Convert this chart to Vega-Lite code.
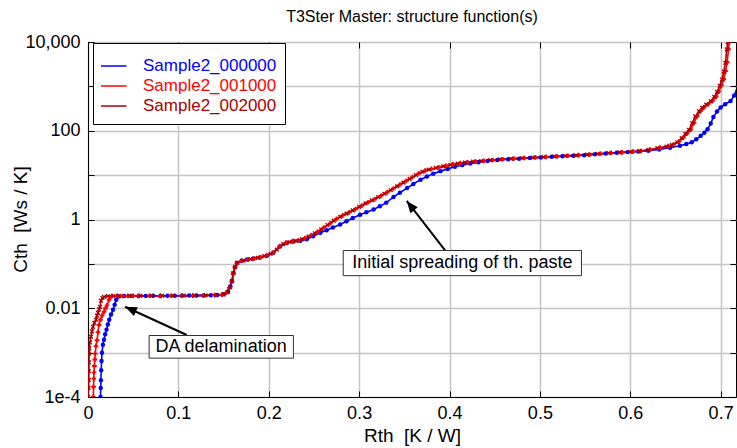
{
"$schema": "https://vega.github.io/schema/vega-lite/v6.json",
"width": 648, "height": 355,
"autosize": {"type": "none"},
"padding": {"left": 88, "top": 42, "right": 1, "bottom": 51},
"background": "white",
"title": {"text": "T3Ster Master: structure function(s)", "fontSize": 16, "font": "Liberation Sans", "fontWeight": "normal", "color": "black", "offset": 8, "anchor": "middle"},
"datasets": {
"curves": [
{"s":"Sample2_000000","r":0.0138,"c":0.0001},{"s":"Sample2_000000","r":0.0141,"c":0.00016},{"s":"Sample2_000000","r":0.0143,"c":0.00024},{"s":"Sample2_000000","r":0.0146,"c":0.0004},{"s":"Sample2_000000","r":0.0150,"c":0.00065},{"s":"Sample2_000000","r":0.0155,"c":0.001},{"s":"Sample2_000000","r":0.0165,"c":0.0015},{"s":"Sample2_000000","r":0.0177,"c":0.00195},{"s":"Sample2_000000","r":0.0190,"c":0.0026},{"s":"Sample2_000000","r":0.0205,"c":0.0033},{"s":"Sample2_000000","r":0.0220,"c":0.0043},{"s":"Sample2_000000","r":0.0235,"c":0.0055},{"s":"Sample2_000000","r":0.0255,"c":0.0072},{"s":"Sample2_000000","r":0.0277,"c":0.0093},{"s":"Sample2_000000","r":0.0295,"c":0.012},{"s":"Sample2_000000","r":0.0312,"c":0.0155},{"s":"Sample2_000000","r":0.0340,"c":0.0185},{"s":"Sample2_000000","r":0.0400,"c":0.0188},{"s":"Sample2_000000","r":0.0480,"c":0.019},{"s":"Sample2_000000","r":0.0560,"c":0.0189},{"s":"Sample2_000000","r":0.0640,"c":0.019},{"s":"Sample2_000000","r":0.0720,"c":0.0191},{"s":"Sample2_000000","r":0.0800,"c":0.019},{"s":"Sample2_000000","r":0.0880,"c":0.0191},{"s":"Sample2_000000","r":0.0960,"c":0.0192},{"s":"Sample2_000000","r":0.1040,"c":0.0191},{"s":"Sample2_000000","r":0.1120,"c":0.0193},{"s":"Sample2_000000","r":0.1200,"c":0.0193},{"s":"Sample2_000000","r":0.1280,"c":0.0195},{"s":"Sample2_000000","r":0.1360,"c":0.0196},{"s":"Sample2_000000","r":0.1430,"c":0.0199},{"s":"Sample2_000000","r":0.1500,"c":0.0206},{"s":"Sample2_000000","r":0.1550,"c":0.0236},{"s":"Sample2_000000","r":0.1575,"c":0.031},{"s":"Sample2_000000","r":0.1595,"c":0.041},{"s":"Sample2_000000","r":0.1610,"c":0.062},{"s":"Sample2_000000","r":0.1628,"c":0.085},{"s":"Sample2_000000","r":0.1650,"c":0.105},{"s":"Sample2_000000","r":0.1700,"c":0.117},{"s":"Sample2_000000","r":0.1760,"c":0.125},{"s":"Sample2_000000","r":0.1830,"c":0.132},{"s":"Sample2_000000","r":0.1900,"c":0.140},{"s":"Sample2_000000","r":0.1980,"c":0.153},{"s":"Sample2_000000","r":0.2050,"c":0.178},{"s":"Sample2_000000","r":0.2125,"c":0.245},{"s":"Sample2_000000","r":0.2200,"c":0.295},{"s":"Sample2_000000","r":0.2275,"c":0.32},{"s":"Sample2_000000","r":0.2350,"c":0.33},{"s":"Sample2_000000","r":0.2420,"c":0.36},{"s":"Sample2_000000","r":0.2490,"c":0.42},{"s":"Sample2_000000","r":0.2570,"c":0.50},{"s":"Sample2_000000","r":0.2640,"c":0.57},{"s":"Sample2_000000","r":0.2710,"c":0.66},{"s":"Sample2_000000","r":0.2790,"c":0.77},{"s":"Sample2_000000","r":0.2860,"c":0.91},{"s":"Sample2_000000","r":0.2930,"c":1.08},{"s":"Sample2_000000","r":0.3010,"c":1.28},{"s":"Sample2_000000","r":0.3080,"c":1.45},{"s":"Sample2_000000","r":0.3160,"c":1.68},{"s":"Sample2_000000","r":0.3230,"c":1.98},{"s":"Sample2_000000","r":0.3300,"c":2.4},{"s":"Sample2_000000","r":0.3380,"c":3.2},{"s":"Sample2_000000","r":0.3450,"c":4.0},{"s":"Sample2_000000","r":0.3530,"c":5.1},{"s":"Sample2_000000","r":0.3600,"c":6.3},{"s":"Sample2_000000","r":0.3680,"c":7.9},{"s":"Sample2_000000","r":0.3750,"c":9.3},{"s":"Sample2_000000","r":0.3820,"c":10.8},{"s":"Sample2_000000","r":0.3900,"c":12.3},{"s":"Sample2_000000","r":0.3980,"c":13.8},{"s":"Sample2_000000","r":0.4060,"c":15.5},{"s":"Sample2_000000","r":0.4140,"c":16.8},{"s":"Sample2_000000","r":0.4230,"c":18.2},{"s":"Sample2_000000","r":0.4320,"c":19.6},{"s":"Sample2_000000","r":0.4420,"c":20.8},{"s":"Sample2_000000","r":0.4530,"c":21.8},{"s":"Sample2_000000","r":0.4650,"c":22.7},{"s":"Sample2_000000","r":0.4770,"c":23.5},{"s":"Sample2_000000","r":0.4890,"c":24.3},{"s":"Sample2_000000","r":0.5010,"c":25.0},{"s":"Sample2_000000","r":0.5130,"c":25.8},{"s":"Sample2_000000","r":0.5250,"c":26.6},{"s":"Sample2_000000","r":0.5370,"c":27.4},{"s":"Sample2_000000","r":0.5490,"c":28.2},{"s":"Sample2_000000","r":0.5610,"c":29.4},{"s":"Sample2_000000","r":0.5730,"c":30.7},{"s":"Sample2_000000","r":0.5850,"c":31.8},{"s":"Sample2_000000","r":0.5970,"c":33.0},{"s":"Sample2_000000","r":0.6090,"c":34.0},{"s":"Sample2_000000","r":0.6200,"c":35.3},{"s":"Sample2_000000","r":0.6320,"c":37.8},{"s":"Sample2_000000","r":0.6440,"c":41.5},{"s":"Sample2_000000","r":0.6550,"c":46},{"s":"Sample2_000000","r":0.6620,"c":50},{"s":"Sample2_000000","r":0.6680,"c":55},{"s":"Sample2_000000","r":0.6730,"c":64},{"s":"Sample2_000000","r":0.6780,"c":77},{"s":"Sample2_000000","r":0.6820,"c":90},{"s":"Sample2_000000","r":0.6855,"c":108},{"s":"Sample2_000000","r":0.6890,"c":145},{"s":"Sample2_000000","r":0.6920,"c":205},{"s":"Sample2_000000","r":0.6960,"c":270},{"s":"Sample2_000000","r":0.7000,"c":335},{"s":"Sample2_000000","r":0.7050,"c":395},{"s":"Sample2_000000","r":0.7110,"c":470},{"s":"Sample2_000000","r":0.7150,"c":620},{"s":"Sample2_000000","r":0.7190,"c":1000},
{"s":"Sample2_001000","r":0.0059,"c":0.0001},{"s":"Sample2_001000","r":0.0061,"c":0.00017},{"s":"Sample2_001000","r":0.0064,"c":0.00026},{"s":"Sample2_001000","r":0.0067,"c":0.00036},{"s":"Sample2_001000","r":0.0071,"c":0.0005},{"s":"Sample2_001000","r":0.0075,"c":0.0007},{"s":"Sample2_001000","r":0.0080,"c":0.00095},{"s":"Sample2_001000","r":0.0088,"c":0.0014},{"s":"Sample2_001000","r":0.0100,"c":0.0019},{"s":"Sample2_001000","r":0.0111,"c":0.0029},{"s":"Sample2_001000","r":0.0122,"c":0.0042},{"s":"Sample2_001000","r":0.0138,"c":0.0055},{"s":"Sample2_001000","r":0.0155,"c":0.0068},{"s":"Sample2_001000","r":0.0177,"c":0.0083},{"s":"Sample2_001000","r":0.0195,"c":0.0100},{"s":"Sample2_001000","r":0.0210,"c":0.0116},{"s":"Sample2_001000","r":0.0233,"c":0.0155},{"s":"Sample2_001000","r":0.0266,"c":0.0188},{"s":"Sample2_001000","r":0.0320,"c":0.019},{"s":"Sample2_001000","r":0.0380,"c":0.0189},{"s":"Sample2_001000","r":0.0440,"c":0.019},{"s":"Sample2_001000","r":0.0500,"c":0.0191},{"s":"Sample2_001000","r":0.0560,"c":0.019},{"s":"Sample2_001000","r":0.0680,"c":0.0191},{"s":"Sample2_001000","r":0.0800,"c":0.019},{"s":"Sample2_001000","r":0.0920,"c":0.0191},{"s":"Sample2_001000","r":0.1040,"c":0.0192},{"s":"Sample2_001000","r":0.1160,"c":0.0192},{"s":"Sample2_001000","r":0.1280,"c":0.0195},{"s":"Sample2_001000","r":0.1400,"c":0.0197},{"s":"Sample2_001000","r":0.1480,"c":0.0202},{"s":"Sample2_001000","r":0.1530,"c":0.0225},{"s":"Sample2_001000","r":0.1565,"c":0.029},{"s":"Sample2_001000","r":0.1590,"c":0.040},{"s":"Sample2_001000","r":0.1605,"c":0.060},{"s":"Sample2_001000","r":0.1625,"c":0.084},{"s":"Sample2_001000","r":0.1648,"c":0.104},{"s":"Sample2_001000","r":0.1700,"c":0.116},{"s":"Sample2_001000","r":0.1770,"c":0.125},{"s":"Sample2_001000","r":0.1840,"c":0.132},{"s":"Sample2_001000","r":0.1910,"c":0.141},{"s":"Sample2_001000","r":0.1980,"c":0.155},{"s":"Sample2_001000","r":0.2050,"c":0.18},{"s":"Sample2_001000","r":0.2120,"c":0.25},{"s":"Sample2_001000","r":0.2190,"c":0.30},{"s":"Sample2_001000","r":0.2260,"c":0.325},{"s":"Sample2_001000","r":0.2330,"c":0.34},{"s":"Sample2_001000","r":0.2400,"c":0.38},{"s":"Sample2_001000","r":0.2470,"c":0.44},{"s":"Sample2_001000","r":0.2540,"c":0.53},{"s":"Sample2_001000","r":0.2610,"c":0.66},{"s":"Sample2_001000","r":0.2680,"c":0.82},{"s":"Sample2_001000","r":0.2750,"c":1.03},{"s":"Sample2_001000","r":0.2820,"c":1.24},{"s":"Sample2_001000","r":0.2890,"c":1.45},{"s":"Sample2_001000","r":0.2960,"c":1.72},{"s":"Sample2_001000","r":0.3030,"c":2.06},{"s":"Sample2_001000","r":0.3100,"c":2.45},{"s":"Sample2_001000","r":0.3170,"c":2.85},{"s":"Sample2_001000","r":0.3240,"c":3.4},{"s":"Sample2_001000","r":0.3310,"c":4.1},{"s":"Sample2_001000","r":0.3380,"c":5.0},{"s":"Sample2_001000","r":0.3450,"c":6.1},{"s":"Sample2_001000","r":0.3520,"c":7.4},{"s":"Sample2_001000","r":0.3590,"c":9.0},{"s":"Sample2_001000","r":0.3660,"c":10.9},{"s":"Sample2_001000","r":0.3730,"c":12.6},{"s":"Sample2_001000","r":0.3800,"c":13.8},{"s":"Sample2_001000","r":0.3880,"c":14.9},{"s":"Sample2_001000","r":0.3960,"c":16.2},{"s":"Sample2_001000","r":0.4040,"c":17.4},{"s":"Sample2_001000","r":0.4120,"c":18.6},{"s":"Sample2_001000","r":0.4200,"c":19.5},{"s":"Sample2_001000","r":0.4290,"c":20.3},{"s":"Sample2_001000","r":0.4380,"c":21.0},{"s":"Sample2_001000","r":0.4480,"c":21.9},{"s":"Sample2_001000","r":0.4590,"c":22.8},{"s":"Sample2_001000","r":0.4710,"c":23.6},{"s":"Sample2_001000","r":0.4830,"c":24.3},{"s":"Sample2_001000","r":0.4950,"c":25.0},{"s":"Sample2_001000","r":0.5070,"c":25.7},{"s":"Sample2_001000","r":0.5190,"c":26.5},{"s":"Sample2_001000","r":0.5310,"c":27.3},{"s":"Sample2_001000","r":0.5430,"c":28.1},{"s":"Sample2_001000","r":0.5550,"c":29.1},{"s":"Sample2_001000","r":0.5670,"c":30.4},{"s":"Sample2_001000","r":0.5790,"c":31.6},{"s":"Sample2_001000","r":0.5910,"c":32.6},{"s":"Sample2_001000","r":0.6030,"c":33.8},{"s":"Sample2_001000","r":0.6120,"c":35.0},{"s":"Sample2_001000","r":0.6220,"c":37.5},{"s":"Sample2_001000","r":0.6330,"c":41.5},{"s":"Sample2_001000","r":0.6420,"c":45},{"s":"Sample2_001000","r":0.6480,"c":49},{"s":"Sample2_001000","r":0.6540,"c":57},{"s":"Sample2_001000","r":0.6590,"c":71},{"s":"Sample2_001000","r":0.6630,"c":88},{"s":"Sample2_001000","r":0.6670,"c":107},{"s":"Sample2_001000","r":0.6705,"c":150},{"s":"Sample2_001000","r":0.6740,"c":212},{"s":"Sample2_001000","r":0.6780,"c":280},{"s":"Sample2_001000","r":0.6815,"c":335},{"s":"Sample2_001000","r":0.6860,"c":395},{"s":"Sample2_001000","r":0.6910,"c":470},{"s":"Sample2_001000","r":0.6950,"c":590},{"s":"Sample2_001000","r":0.6980,"c":760},{"s":"Sample2_001000","r":0.7010,"c":1050},{"s":"Sample2_001000","r":0.7035,"c":1450},{"s":"Sample2_001000","r":0.7055,"c":2200},{"s":"Sample2_001000","r":0.7073,"c":3500},{"s":"Sample2_001000","r":0.7087,"c":6900},{"s":"Sample2_001000","r":0.7097,"c":10000},
{"s":"Sample2_002000","r":0.0003,"c":0.0001},{"s":"Sample2_002000","r":0.0006,"c":0.00016},{"s":"Sample2_002000","r":0.0009,"c":0.00024},{"s":"Sample2_002000","r":0.0010,"c":0.00038},{"s":"Sample2_002000","r":0.0011,"c":0.0006},{"s":"Sample2_002000","r":0.0012,"c":0.00095},{"s":"Sample2_002000","r":0.0014,"c":0.00125},{"s":"Sample2_002000","r":0.0022,"c":0.0017},{"s":"Sample2_002000","r":0.0033,"c":0.0023},{"s":"Sample2_002000","r":0.0044,"c":0.003},{"s":"Sample2_002000","r":0.0055,"c":0.0038},{"s":"Sample2_002000","r":0.0070,"c":0.0047},{"s":"Sample2_002000","r":0.0089,"c":0.0055},{"s":"Sample2_002000","r":0.0100,"c":0.0068},{"s":"Sample2_002000","r":0.0111,"c":0.0079},{"s":"Sample2_002000","r":0.0122,"c":0.0095},{"s":"Sample2_002000","r":0.0133,"c":0.0107},{"s":"Sample2_002000","r":0.0144,"c":0.0148},{"s":"Sample2_002000","r":0.0160,"c":0.017},{"s":"Sample2_002000","r":0.0177,"c":0.018},{"s":"Sample2_002000","r":0.0220,"c":0.0188},{"s":"Sample2_002000","r":0.0280,"c":0.0189},{"s":"Sample2_002000","r":0.0340,"c":0.019},{"s":"Sample2_002000","r":0.0460,"c":0.019},{"s":"Sample2_002000","r":0.0580,"c":0.0191},{"s":"Sample2_002000","r":0.0700,"c":0.019},{"s":"Sample2_002000","r":0.0820,"c":0.0191},{"s":"Sample2_002000","r":0.0940,"c":0.0191},{"s":"Sample2_002000","r":0.1060,"c":0.0192},{"s":"Sample2_002000","r":0.1180,"c":0.0193},{"s":"Sample2_002000","r":0.1300,"c":0.0195},{"s":"Sample2_002000","r":0.1420,"c":0.0198},{"s":"Sample2_002000","r":0.1500,"c":0.0204},{"s":"Sample2_002000","r":0.1545,"c":0.0232},{"s":"Sample2_002000","r":0.1572,"c":0.030},{"s":"Sample2_002000","r":0.1593,"c":0.041},{"s":"Sample2_002000","r":0.1608,"c":0.061},{"s":"Sample2_002000","r":0.1627,"c":0.085},{"s":"Sample2_002000","r":0.1650,"c":0.105},{"s":"Sample2_002000","r":0.1720,"c":0.118},{"s":"Sample2_002000","r":0.1800,"c":0.128},{"s":"Sample2_002000","r":0.1880,"c":0.137},{"s":"Sample2_002000","r":0.1950,"c":0.150},{"s":"Sample2_002000","r":0.2020,"c":0.168},{"s":"Sample2_002000","r":0.2090,"c":0.21},{"s":"Sample2_002000","r":0.2160,"c":0.28},{"s":"Sample2_002000","r":0.2230,"c":0.31},{"s":"Sample2_002000","r":0.2300,"c":0.33},{"s":"Sample2_002000","r":0.2370,"c":0.36},{"s":"Sample2_002000","r":0.2440,"c":0.41},{"s":"Sample2_002000","r":0.2510,"c":0.49},{"s":"Sample2_002000","r":0.2580,"c":0.60},{"s":"Sample2_002000","r":0.2650,"c":0.75},{"s":"Sample2_002000","r":0.2720,"c":0.94},{"s":"Sample2_002000","r":0.2790,"c":1.15},{"s":"Sample2_002000","r":0.2860,"c":1.36},{"s":"Sample2_002000","r":0.2930,"c":1.6},{"s":"Sample2_002000","r":0.3000,"c":1.92},{"s":"Sample2_002000","r":0.3070,"c":2.3},{"s":"Sample2_002000","r":0.3140,"c":2.7},{"s":"Sample2_002000","r":0.3210,"c":3.2},{"s":"Sample2_002000","r":0.3280,"c":3.8},{"s":"Sample2_002000","r":0.3350,"c":4.6},{"s":"Sample2_002000","r":0.3420,"c":5.6},{"s":"Sample2_002000","r":0.3490,"c":6.8},{"s":"Sample2_002000","r":0.3560,"c":8.2},{"s":"Sample2_002000","r":0.3630,"c":10.0},{"s":"Sample2_002000","r":0.3700,"c":11.9},{"s":"Sample2_002000","r":0.3770,"c":13.3},{"s":"Sample2_002000","r":0.3850,"c":14.5},{"s":"Sample2_002000","r":0.3930,"c":15.8},{"s":"Sample2_002000","r":0.4010,"c":17.0},{"s":"Sample2_002000","r":0.4090,"c":18.2},{"s":"Sample2_002000","r":0.4170,"c":19.2},{"s":"Sample2_002000","r":0.4260,"c":20.1},{"s":"Sample2_002000","r":0.4350,"c":20.8},{"s":"Sample2_002000","r":0.4450,"c":21.7},{"s":"Sample2_002000","r":0.4560,"c":22.6},{"s":"Sample2_002000","r":0.4680,"c":23.4},{"s":"Sample2_002000","r":0.4800,"c":24.1},{"s":"Sample2_002000","r":0.4920,"c":24.8},{"s":"Sample2_002000","r":0.5040,"c":25.5},{"s":"Sample2_002000","r":0.5160,"c":26.3},{"s":"Sample2_002000","r":0.5280,"c":27.1},{"s":"Sample2_002000","r":0.5400,"c":27.9},{"s":"Sample2_002000","r":0.5520,"c":28.9},{"s":"Sample2_002000","r":0.5640,"c":30.1},{"s":"Sample2_002000","r":0.5760,"c":31.3},{"s":"Sample2_002000","r":0.5880,"c":32.4},{"s":"Sample2_002000","r":0.6000,"c":33.5},{"s":"Sample2_002000","r":0.6100,"c":34.7},{"s":"Sample2_002000","r":0.6200,"c":37.0},{"s":"Sample2_002000","r":0.6300,"c":40.5},{"s":"Sample2_002000","r":0.6400,"c":44},{"s":"Sample2_002000","r":0.6460,"c":48},{"s":"Sample2_002000","r":0.6520,"c":55},{"s":"Sample2_002000","r":0.6570,"c":68},{"s":"Sample2_002000","r":0.6610,"c":85},{"s":"Sample2_002000","r":0.6650,"c":105},{"s":"Sample2_002000","r":0.6685,"c":148},{"s":"Sample2_002000","r":0.6720,"c":210},{"s":"Sample2_002000","r":0.6760,"c":275},{"s":"Sample2_002000","r":0.6795,"c":330},{"s":"Sample2_002000","r":0.6840,"c":390},{"s":"Sample2_002000","r":0.6890,"c":462},{"s":"Sample2_002000","r":0.6930,"c":580},{"s":"Sample2_002000","r":0.6960,"c":750},{"s":"Sample2_002000","r":0.6990,"c":1030},{"s":"Sample2_002000","r":0.7015,"c":1420},{"s":"Sample2_002000","r":0.7035,"c":2150},{"s":"Sample2_002000","r":0.7053,"c":3400},{"s":"Sample2_002000","r":0.7068,"c":6800},{"s":"Sample2_002000","r":0.7078,"c":10000}
],
"notes": [
{"id":"da","label":"DA delamination","bx1":0.0676,"bx2":0.2273,"by1":0.00075,"by2":0.00243,"tx":0.1473,"ty":0.00135,"ax1":0.1093,"ay1":0.0025,"ax2":0.041,"ay2":0.0108},
{"id":"sp","label":"Initial spreading of th. paste","bx1":0.2824,"bx2":0.546,"by1":0.0543,"by2":0.2,"tx":0.4142,"ty":0.104,"ax1":0.3953,"ay1":0.2,"ax2":0.3527,"ay2":2.62}
]
},
"layer": [
{
"data": {"name": "curves"},
"mark": {"type": "line", "strokeWidth": 1.6, "clip": true},
"encoding": {
"x": {"field": "r", "type": "quantitative", "scale": {"domain": [0, 0.717], "nice": false, "zero": false},
"axis": {"orient": "bottom", "values": [0, 0.1, 0.2, 0.3, 0.4, 0.5, 0.6, 0.7], "format": ".1~f", "labelFlush": false, "title": "Rth \u00a0[K / W]", "grid": true, "tickSize": -6, "labelPadding": 13, "titlePadding": 4}},
"y": {"field": "c", "type": "quantitative", "scale": {"type": "log", "domain": [0.0001, 10000], "nice": false},
"axis": {"orient": "left", "values": [0.0001, 0.001, 0.01, 0.1, 1, 10, 100, 1000, 10000], "labelExpr": "datum.value == 10000 ? '10,000' : datum.value == 100 ? '100' : datum.value == 1 ? '1' : datum.value == 0.01 ? '0.01' : datum.value == 0.0001 ? '1e-4' : ''", "grid": true, "tickSize": -6, "labelPadding": 14, "labelFlush": false, "title": "Cth \u00a0[Ws / K]", "titleX": -58, "titleY": 177}},
"color": {"field": "s", "type": "nominal", "scale": {"domain": ["Sample2_000000", "Sample2_001000", "Sample2_002000"], "range": ["#0000ff", "#ff0000", "#a80000"]},
"legend": {"orient": "none", "legendX": 5, "legendY": 1, "title": " ", "titleFontSize": 2, "titlePadding": 3, "symbolType": "M-2,0H2", "symbolSize": 272, "symbolStrokeWidth": 1.5, "labelFontSize": 17, "labelFont": "Liberation Sans", "padding": 8, "rowPadding": -2, "clipHeight": 20, "labelOffset": 24, "strokeColor": "black", "fillColor": "white", "cornerRadius": 0,
"encode": {"labels": {"update": {"fill": {"scale": "color", "field": "value"}}}}}}
}
},
{
"data": {"name": "curves"},
"transform": [{"filter": "datum.s == 'Sample2_000000'"}],
"mark": {"type": "point", "filled": true, "size": 20, "opacity": 1, "color": "#0000ff", "shape": "circle", "clip": true},
"encoding": {
"x": {"field": "r", "type": "quantitative", "scale": {"domain": [0, 0.717], "nice": false, "zero": false},
"axis": {"orient": "top", "values": [0, 0.1, 0.2, 0.3, 0.4, 0.5, 0.6, 0.7], "labels": false, "grid": false, "tickSize": -6, "domain": false, "title": null}},
"y": {"field": "c", "type": "quantitative", "scale": {"type": "log", "domain": [0.0001, 10000], "nice": false},
"axis": {"orient": "right", "values": [0.0001, 0.001, 0.01, 0.1, 1, 10, 100, 1000, 10000], "labels": false, "grid": false, "tickSize": -6, "domain": false, "title": null}}
}
},
{
"data": {"name": "curves"},
"transform": [{"filter": "datum.s == 'Sample2_001000'"}],
"mark": {"type": "point", "filled": true, "size": 22, "opacity": 1, "color": "#ff0000", "shape": "cross", "clip": true},
"encoding": {
"x": {"field": "r", "type": "quantitative", "scale": {"domain": [0, 0.717], "nice": false, "zero": false}, "axis": null},
"y": {"field": "c", "type": "quantitative", "scale": {"type": "log", "domain": [0.0001, 10000], "nice": false}, "axis": null}
}
},
{
"data": {"name": "curves"},
"transform": [{"filter": "datum.s == 'Sample2_002000'"}],
"mark": {"type": "point", "filled": true, "size": 22, "opacity": 1, "color": "#a80000", "shape": "M-1,-0.6L-0.6,-1L0,-0.4L0.6,-1L1,-0.6L0.4,0L1,0.6L0.6,1L0,0.4L-0.6,1L-1,0.6L-0.4,0Z", "clip": true},
"encoding": {
"x": {"field": "r", "type": "quantitative", "scale": {"domain": [0, 0.717], "nice": false, "zero": false}, "axis": null},
"y": {"field": "c", "type": "quantitative", "scale": {"type": "log", "domain": [0.0001, 10000], "nice": false}, "axis": null}
}
},
{
"data": {"name": "notes"},
"mark": {"type": "rule", "color": "black", "strokeWidth": 2},
"encoding": {
"x": {"field": "ax1", "type": "quantitative", "scale": {"domain": [0, 0.717], "nice": false, "zero": false}, "axis": null},
"x2": {"field": "ax2"},
"y": {"field": "ay1", "type": "quantitative", "scale": {"type": "log", "domain": [0.0001, 10000], "nice": false}, "axis": null},
"y2": {"field": "ay2"}
}
},
{
"data": {"name": "notes"},
"mark": {"type": "rect", "fill": "white", "stroke": "#333333", "strokeWidth": 1},
"encoding": {
"x": {"field": "bx1", "type": "quantitative", "scale": {"domain": [0, 0.717], "nice": false, "zero": false}, "axis": null},
"x2": {"field": "bx2"},
"y": {"field": "by1", "type": "quantitative", "scale": {"type": "log", "domain": [0.0001, 10000], "nice": false}, "axis": null},
"y2": {"field": "by2"}
}
},
{
"data": {"name": "notes"},
"mark": {"type": "text", "font": "Liberation Sans", "fontSize": 18, "color": "black", "align": "center", "baseline": "middle"},
"encoding": {
"x": {"field": "tx", "type": "quantitative", "scale": {"domain": [0, 0.717], "nice": false, "zero": false}, "axis": null},
"y": {"field": "ty", "type": "quantitative", "scale": {"type": "log", "domain": [0.0001, 10000], "nice": false}, "axis": null},
"text": {"field": "label"}
}
},
{
"data": {"name": "notes"},
"transform": [{"filter": "datum.id == 'da'"}],
"mark": {"type": "point", "shape": "M0,0L-0.4,1L0.4,1Z", "size": 560, "filled": true, "color": "black", "opacity": 1, "angle": 294},
"encoding": {
"x": {"field": "ax2", "type": "quantitative", "scale": {"domain": [0, 0.717], "nice": false, "zero": false}, "axis": null},
"y": {"field": "ay2", "type": "quantitative", "scale": {"type": "log", "domain": [0.0001, 10000], "nice": false}, "axis": null}
}
},
{
"data": {"name": "notes"},
"transform": [{"filter": "datum.id == 'sp'"}],
"mark": {"type": "point", "shape": "M0,0L-0.4,1L0.4,1Z", "size": 560, "filled": true, "color": "black", "opacity": 1, "angle": 322},
"encoding": {
"x": {"field": "ax2", "type": "quantitative", "scale": {"domain": [0, 0.717], "nice": false, "zero": false}, "axis": null},
"y": {"field": "ay2", "type": "quantitative", "scale": {"type": "log", "domain": [0.0001, 10000], "nice": false}, "axis": null}
}
}
],
"resolve": {"axis": {"x": "independent", "y": "independent"}},
"config": {
"view": {"stroke": "black", "strokeWidth": 1},
"font": "Liberation Sans",
"axis": {"labelFont": "Liberation Sans", "titleFont": "Liberation Sans", "labelFontSize": 18, "titleFontSize": 19, "titleFontWeight": "normal", "labelColor": "black", "titleColor": "black", "gridColor": "#c4c4c4", "gridWidth": 1.5, "gridOpacity": 1, "domainColor": "black", "tickColor": "black", "tickWidth": 1}
}
}
